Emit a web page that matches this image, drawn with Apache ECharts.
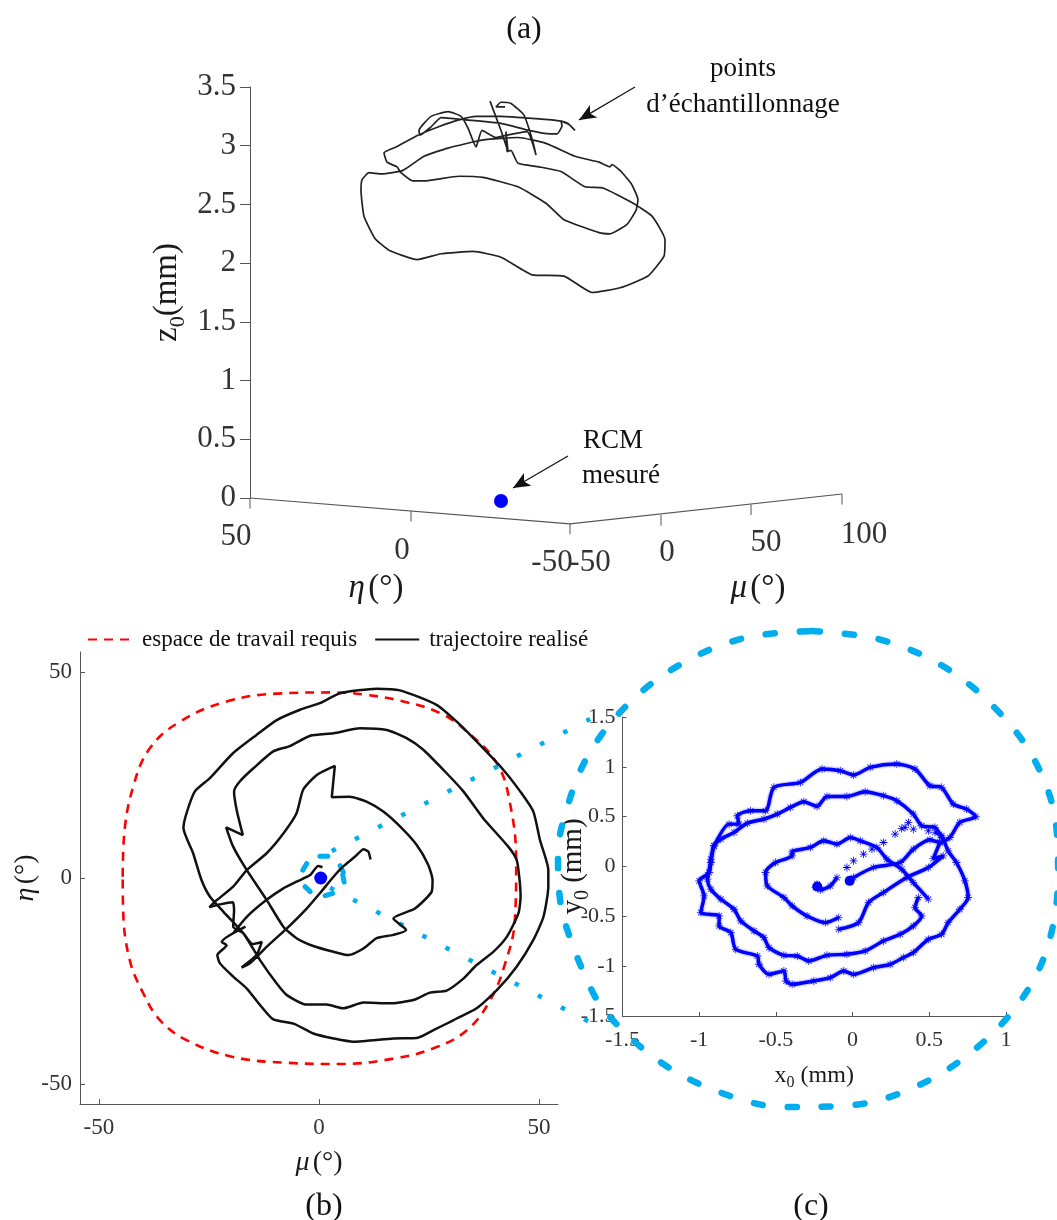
<!DOCTYPE html>
<html><head><meta charset="utf-8">
<script src="https://cdn.jsdelivr.net/npm/echarts@6/dist/echarts.min.js"></script>
<style>html,body{margin:0;padding:0;background:#fff}#c{width:1057px;height:1220px}</style>
</head><body><div id="c"></div>
<script>
// Panel (a): h = horizontal position in the projected 3D view, z = z0 (mm)
const trajectoryA = [[255,3.33],[246,3.33],[251,3.37],[261,3.36],[274,3.26],[282,3.06],[286,2.92],[277,3.12],[251,3.08],[246,3.07],[232,3.13],[226,2.99],[218,3.15],[211,3.25],[198,3.29],[181,3.25],[169,3.13],[170,3.09],[181,3.16],[191,3.24],[216,3.22],[251,3.19],[279,3.13],[300,3.10],[307,3.10],[312,3.17],[311,3.21],[319,3.18],[325,3.13],[318,3.19],[311,3.21],[286,3.23],[251,3.25],[226,3.25],[209,3.22],[188,3.16],[168,3.09],[146,2.99],[134,2.94],[137,2.86],[147,2.82],[151,2.77],[163,2.70],[174,2.70],[209,2.74],[233,2.73],[268,2.65],[296,2.51],[314,2.37],[349,2.26],[360,2.25],[377,2.33],[386,2.45],[388,2.54],[381,2.68],[370,2.79],[362,2.84],[360,2.82],[349,2.86],[325,2.91],[296,3.02],[268,3.07],[233,3.05],[198,2.98],[174,2.91],[153,2.79],[132,2.76],[119,2.77],[112,2.71],[111,2.62],[114,2.40],[125,2.21],[139,2.11],[167,2.03],[191,2.08],[223,2.10],[251,2.05],[282,1.90],[314,1.89],[342,1.75],[370,1.79],[398,1.89],[414,2.06],[415,2.20],[402,2.40],[381,2.52],[353,2.64],[335,2.65],[311,2.78],[289,2.82],[268,2.85],[261,2.96],[257,2.95],[256,3.12],[258,2.95],[251,3.13],[240,3.38]];
const rcmA = [[251,-0.026]];
const floorAxes = [[0,0],[320,-0.221],[592,0.034]];
const floorTicks = [[0,0],[0,-0.09],null,[161,-0.11],[161,-0.2],null,[320,-0.221],[320,-0.31],null,[411,-0.145],[411,-0.235],null,[501,-0.055],[501,-0.145],null,[592,0.034],[592,-0.056]];
const floorLabels = [['50',-14,-0.33],['0',152,-0.45],['-50',302,-0.55],['-50',340,-0.55],['0',417,-0.47],['50',516,-0.38],['100',614,-0.31]];
const notesA = [['points',493,3.65],['d\u2019\u00e9chantillonnage',493,3.35],['RCM',363,0.486],['mesur\u00e9',371,0.187]];
const arrowsA = [[[385,3.5],[329,3.22]],[[318,0.358],[263,0.085]]];

// Panel (b): mu, eta in degrees
const workspaceB = [[-44.6,0.3],[-44.3,10.0],[-42.2,22.2],[-38.4,31.5],[-31.6,37.9],[-21.0,42.8],[-9.6,44.7],[3.3,45.0],[10.8,44.4],[18.4,43.0],[27.5,40.0],[33.6,35.5],[40.4,27.8],[43.4,18.1],[44.8,3.6],[44.5,-10.2],[42.3,-20.7],[38.9,-29.6],[33.6,-36.9],[26.0,-41.3],[16.9,-43.8],[4.8,-45.1],[-7.3,-44.8],[-19.5,-43.4],[-30.1,-39.3],[-36.1,-34.5],[-39.9,-28.0],[-43.0,-19.9],[-44.5,-7.8],[-44.6,0.3]];
const trajectoryB = [[11.7,4.5],[11.2,6.4],[10.1,7.0],[8.2,5.2],[5.5,2.8],[3.3,0.3],[0.2,-3.7],[-2.8,-7.4],[-7.3,-12.2],[-11.9,-16.7],[-15.7,-20.7],[-17.6,-21.7],[-14.2,-18.7],[-13.0,-15.5],[-15.1,-16.0],[-17.2,-13.4],[-19.5,-11.8],[-19.3,-7.8],[-19.6,-5.9],[-22.5,-6.4],[-24.9,-7.1],[-23.6,-5.7],[-19.5,-2.1],[-16.4,1.9],[-11.9,6.0],[-8.1,10.8],[-5.1,15.7],[-3.6,21.4],[-0.5,25.0],[3.6,27.2],[2.9,19.6],[7.0,19.7],[10.8,18.5],[14.6,16.1],[18.4,12.5],[22.2,8.0],[24.8,3.2],[25.8,-0.5],[25.6,-3.3],[21.8,-7.4],[16.9,-9.8],[19.8,-12.6],[16.9,-13.8],[13.1,-14.6],[10.1,-17.1],[6.7,-18.7],[3.3,-17.9],[-1.3,-16.5],[-5.1,-14.6],[-8.1,-11.8],[-11.9,-5.3],[-16.4,1.9],[-19.5,7.6],[-21.1,12.3],[-17.3,10.4],[-18.7,16.5],[-19.3,21.0],[-18.0,23.4],[-14.9,26.6],[-10.4,30.7],[-6.6,32.0],[-2.0,34.5],[3.3,35.1],[9.3,36.3],[15.4,35.9],[19.9,33.9],[23.7,31.1],[29.0,25.4],[32.8,21.0],[37.3,14.5],[43.0,7.6],[44.9,4.4],[45.5,0.3],[45.8,-4.5],[45.3,-8.6],[42.7,-14.2],[39.6,-17.9],[35.8,-21.1],[32.8,-24.4],[29.0,-27.3],[25.2,-27.8],[21.4,-29.6],[16.1,-30.4],[10.1,-30.2],[5.5,-31.6],[1.7,-30.7],[-2.8,-30.7],[-7.3,-28.4],[-9.6,-25.6],[-13.4,-19.9],[-17.2,-13.4],[-21.7,-8.2],[-24.8,-4.5],[-26.7,-0.5],[-28.6,6.0],[-30.8,12.1],[-30.1,15.7],[-28.2,21.0],[-24.8,24.2],[-19.5,30.3],[-14.2,34.7],[-9.6,38.3],[-4.3,40.8],[0.2,42.4],[4.8,44.8],[13.1,45.9],[18.4,45.5],[26.7,42.0],[31.3,37.9],[35.8,33.1],[41.9,26.2],[45.7,21.0],[48.7,16.1],[50.2,9.2],[52.1,1.9],[52.1,-2.1],[51.0,-9.4],[48.7,-15.0],[44.9,-21.5],[40.4,-27.2],[35.8,-31.6],[30.5,-34.5],[26.0,-36.9],[22.2,-38.8],[16.9,-38.9],[7.8,-39.7],[3.3,-38.9],[-1.3,-37.7],[-5.8,-35.3],[-10.4,-34.3],[-13.4,-30.8],[-16.4,-26.8],[-19.5,-23.9],[-22.5,-20.7],[-23.1,-18.7],[-21.0,-16.3],[-22.1,-15.5],[-16.7,-11.8],[-19.5,-13.4],[-16.4,-9.4],[-11.9,-5.3],[-8.1,-2.5],[-5.1,-0.9],[-2.0,0.7],[-0.2,2.9],[0.8,2.6]];
const rcmB = [[0.4,0]];
const zoomLineUpper = [[2.9,6.55],[61.6,38.6]];
const zoomLineLower = [[2.5,-2.35],[61.6,-35]];
const smallRing = [[0.2,5.3],[2,5.3],null,[-3.7,1.9],[-2.8,3.5],null,[-3.2,-2.1],[-2,-3.3],null,[1.4,-4.3],[3.1,-3.7],null,[5.4,0.7],[5.7,-1],null,[4.8,3],[5.5,1.4]];
const tickB = [-50,0,50];

// Panel (c): x0, y0 in mm
const bigRing = [[-0.27,2.372],[0.166,2.292],[0.577,2.031],[0.922,1.609],[1.189,1.067],[1.326,0.425],[1.339,-0.077],[1.274,-0.78],[1.098,-1.332],[0.792,-1.834],[0.42,-2.196],[0,-2.387],[-0.44,-2.407],[-0.87,-2.256],[-1.261,-1.945],[-1.593,-1.483],[-1.71,-1.2],[-1.873,-0.559],[-1.912,-0.228],[-1.919,0.113],[-1.886,0.455],[-1.736,1.087],[-1.469,1.63],[-1.117,2.041],[-0.707,2.302],[-0.27,2.372]];
const pathCSparse = [[-0.037,-0.01],[0.006,0.057],[0.071,0.124],[0.126,0.174],[0.201,0.241],[0.277,0.325],[0.342,0.392],[0.364,0.442],[0.32,0.382],[0.396,0.375],[0.494,0.358]];
const pathCStart = [[-0.232,-0.177],[-0.242,-0.211],[-0.21,-0.234],[-0.145,-0.194],[-0.102,-0.111]];
const pathCOuter = [[0.537,0.342],[0.58,0.308],[0.623,0.157],[0.677,0.04],[0.732,-0.144],[0.753,-0.311],[0.699,-0.429],[0.623,-0.563],[0.58,-0.68],[0.494,-0.73],[0.396,-0.864],[0.331,-0.914],[0.245,-0.981],[0.136,-1.015],[0.006,-1.082],[-0.058,-1.048],[-0.145,-1.115],[-0.253,-1.149],[-0.394,-1.182],[-0.433,-1.149],[-0.448,-1.048],[-0.545,-1.082],[-0.61,-0.981],[-0.621,-0.898],[-0.762,-0.831],[-0.794,-0.663],[-0.87,-0.596],[-0.87,-0.496],[-0.989,-0.462],[-0.968,-0.295],[-1,-0.144],[-0.935,-0.06],[-0.924,0.074],[-0.903,0.208],[-0.805,0.425],[-0.74,0.425],[-0.751,0.509],[-0.665,0.559],[-0.567,0.559],[-0.513,0.794],[-0.34,0.844],[-0.199,0.978],[-0.08,0.961],[0.006,0.918],[0.115,0.995],[0.288,1.028],[0.407,0.978],[0.504,0.81],[0.58,0.794],[0.656,0.626],[0.742,0.576],[0.803,0.499],[0.699,0.442],[0.634,0.291],[0.569,0.241],[0.504,0.268],[0.396,0.174],[0.31,0.04],[0.136,-0.01],[0.006,-0.111],[-0.019,-0.144]];
const pathCMiddle = [[0.58,0.291],[0.537,0.392],[0.45,0.409],[0.396,0.526],[0.288,0.66],[0.201,0.71],[0.082,0.75],[-0.037,0.703],[-0.167,0.703],[-0.232,0.603],[-0.318,0.65],[-0.405,0.593],[-0.491,0.526],[-0.578,0.476],[-0.686,0.435],[-0.773,0.342],[-0.859,0.275],[-0.903,0.208],[-0.924,0.04],[-0.946,-0.127],[-0.924,-0.228],[-0.859,-0.328],[-0.773,-0.429],[-0.729,-0.546],[-0.643,-0.646],[-0.578,-0.713],[-0.545,-0.814],[-0.448,-0.891],[-0.361,-0.898],[-0.286,-0.948],[-0.167,-0.891],[-0.037,-0.881],[0.082,-0.847],[0.201,-0.747],[0.31,-0.68],[0.396,-0.596],[0.45,-0.496],[0.407,-0.412],[0.429,-0.311]];
const pathCBranch = [[0.569,0.241],[0.526,0.08],[0.591,0.107],[0.494,-0.01],[0.353,-0.111],[0.201,-0.261],[0.104,-0.362],[0.039,-0.563],[-0.091,-0.63]];
const pathCInner = [[0.494,-0.328],[0.396,-0.161],[0.32,-0.027],[0.223,0.074],[0.158,0.191],[0.05,0.258],[-0.015,0.291],[-0.102,0.224],[-0.188,0.258],[-0.275,0.191],[-0.394,0.147],[-0.394,0.107],[-0.502,0.04],[-0.567,-0.06],[-0.556,-0.194],[-0.448,-0.311],[-0.394,-0.395],[-0.297,-0.496],[-0.177,-0.563],[-0.091,-0.512]];
const pathCEnds = [[-0.23,-0.2],[-0.019,-0.144]];

const SERIF = '"Liberation Serif","Times New Roman",serif';
const AXIS = '#555';
const CYAN = '#00aeef';
const BLUE = '#0000ff';
const INK = '#1a1a1a';
const STAR = 'path://M4.5 0h1v3.8l2.7-2.7.7.7L6.2 4.5H10v1H6.2l2.7 2.7-.7.7-2.7-2.7V10h-1V6.2L1.8 8.9l-.7-.7 2.7-2.7H0v-1h3.8L1.1 1.8l.7-.7 2.7 2.7z';

function subRich(size){return {
  a:{fontFamily:SERIF,fontSize:size,color:INK,verticalAlign:'middle',lineHeight:size*1.3},
  s:{fontFamily:SERIF,fontSize:Math.round(size*0.68),color:INK,verticalAlign:'bottom',lineHeight:size*1.3},
  i:{fontFamily:SERIF,fontStyle:'italic',fontSize:size,color:INK,verticalAlign:'middle',lineHeight:size*1.3}
};}
function blueLine(name,data){return {name,type:'line',xAxisIndex:2,yAxisIndex:2,data,symbol:STAR,symbolSize:8,showSymbol:true,showAllSymbol:true,smooth:0.25,clip:false,
  itemStyle:{color:BLUE,opacity:0.85},lineStyle:{color:BLUE,width:3.4,shadowColor:'rgba(0,0,255,.6)',shadowBlur:2.5},z:4};}
function textScatter(name,rows,size,color){return {name,type:'scatter',xAxisIndex:0,yAxisIndex:0,clip:false,symbolSize:0,silent:true,
  itemStyle:{opacity:1},
  data:rows.map(r=>({name:r[0],value:[r[1],r[2]]})),
  label:{show:true,position:'inside',formatter:'{b}',fontFamily:SERIF,fontSize:size,color}};}
const titleStyle={fontFamily:SERIF,fontSize:32,fontWeight:'normal',color:'#111'};

const option = {
  backgroundColor:'#fff',animation:false,
  title:[
    {text:'(a)',left:519,top:9,textAlign:'center',textStyle:titleStyle},
    {text:'(b)',left:319,top:1186,textAlign:'center',textStyle:titleStyle},
    {text:'(c)',left:806,top:1186,textAlign:'center',textStyle:titleStyle}
  ],
  legend:{left:82,top:623,itemWidth:44,itemHeight:1,itemGap:17,itemStyle:{opacity:0},data:['espace de travail requis','trajectoire realis\u00e9'],
    textStyle:{fontFamily:SERIF,fontSize:23,color:'#111',padding:[0,0,0,5]}},
  grid:[
    {left:250,top:87,width:600,height:411},
    {left:80,top:652,width:478,height:452},
    {left:622.5,top:717,width:383.5,height:299},
    {left:0,top:0,width:1057,height:1220},
    {left:0,top:0,width:1057,height:1220}
  ],
  xAxis:[
    {gridIndex:0,type:'value',min:0,max:600,show:false},
    {gridIndex:1,type:'value',min:-54.3,max:54.3,splitLine:{show:false},
      axisLine:{onZero:false,lineStyle:{color:AXIS}},axisTick:{inside:true,length:5,customValues:tickB,lineStyle:{color:AXIS}},
      axisLabel:{customValues:tickB,fontFamily:SERIF,fontSize:23,color:'#333',margin:12},
      name:'{i|\u03bc} {a|(\u00b0)}',nameLocation:'middle',nameGap:40,nameMoveOverlap:false,nameTextStyle:{rich:subRich(28)}},
    {gridIndex:2,type:'value',min:-1.5,max:1,interval:0.5,splitLine:{show:false},
      axisLine:{onZero:false,lineStyle:{color:AXIS}},axisTick:{inside:true,length:4,lineStyle:{color:AXIS}},
      axisLabel:{fontFamily:SERIF,fontSize:22,color:'#333',margin:13,showMinLabel:true,showMaxLabel:true},
      name:'{a|x}{s|0}{a| (mm)}',nameLocation:'middle',nameGap:44,nameMoveOverlap:false,nameTextStyle:{rich:subRich(24)}},
    {gridIndex:3,type:'value',min:-72.5,max:167.7,show:false},
    {gridIndex:4,type:'value',min:-5.554,max:1.332,show:false}
  ],
  yAxis:[
    {gridIndex:0,type:'value',min:0,max:3.5,interval:0.5,splitLine:{show:false},
      axisLine:{show:true,lineStyle:{color:AXIS}},axisTick:{show:true,length:10,lineStyle:{color:AXIS}},
      axisLabel:{fontFamily:SERIF,fontSize:31,color:'#333',margin:14},
      name:'{a|z}{s|0}{a|(mm)}',nameLocation:'middle',nameGap:61,nameMoveOverlap:false,nameRotate:90,nameTextStyle:{rich:subRich(33)}},
    {gridIndex:1,type:'value',min:-54.8,max:54.8,splitLine:{show:false},
      axisLine:{show:true,onZero:false,lineStyle:{color:AXIS}},axisTick:{show:true,inside:true,length:5,customValues:tickB,lineStyle:{color:AXIS}},
      axisLabel:{customValues:tickB,fontFamily:SERIF,fontSize:23,color:'#333',margin:8},
      name:'{i|\u03b7} {a|(\u00b0)}',nameLocation:'middle',nameGap:36,nameMoveOverlap:false,nameRotate:90,nameTextStyle:{rich:subRich(28)}},
    {gridIndex:2,type:'value',min:-1.5,max:1.5,interval:0.5,splitLine:{show:false},
      axisLine:{show:true,onZero:false,lineStyle:{color:AXIS}},axisTick:{show:true,inside:true,length:4,lineStyle:{color:AXIS}},
      axisLabel:{fontFamily:SERIF,fontSize:22,color:'#333',margin:7,showMinLabel:true,showMaxLabel:true},
      name:'{a|y}{s|0}{a| (mm)}',nameLocation:'middle',nameGap:30,nameMoveOverlap:false,nameRotate:90,nameTextStyle:{rich:subRich(29)}},
    {gridIndex:3,type:'value',min:-83.0,max:213.1,show:false},
    {gridIndex:4,type:'value',min:-3.541,max:8.708,show:false}
  ],
  series:[
    {name:'axes3d',type:'line',xAxisIndex:0,yAxisIndex:0,data:floorAxes,symbol:'none',clip:false,lineStyle:{color:AXIS,width:1.2}},
    {name:'ticks3d',type:'line',xAxisIndex:0,yAxisIndex:0,data:floorTicks,symbol:'none',clip:false,connectNulls:false,lineStyle:{color:AXIS,width:1}},
    {name:'trajA',type:'line',xAxisIndex:0,yAxisIndex:0,data:trajectoryA,symbol:'none',smooth:0.15,clip:false,lineStyle:{color:'#222',width:1.7},
      markLine:{silent:true,symbol:['none','arrow'],symbolSize:[11,17],label:{show:false},animation:false,lineStyle:{color:'#111',width:1.2,type:'solid'},
        data:arrowsA.map(a=>[{coord:a[0]},{coord:a[1]}])}},
    {name:'rcmA',type:'scatter',xAxisIndex:0,yAxisIndex:0,data:rcmA,symbol:'circle',symbolSize:14,clip:false,itemStyle:{color:BLUE,opacity:1}},
    textScatter('floorLabels',floorLabels,31,'#333'),
    textScatter('notes',notesA,27,'#111'),
    {name:'axisNames',type:'scatter',xAxisIndex:0,yAxisIndex:0,clip:false,symbolSize:0,silent:true,itemStyle:{opacity:1},
      data:[{name:'{i|\u03b7} {a|(\u00b0)}',value:[126,-0.77]},{name:'{i|\u03bc} {a|(\u00b0)}',value:[508,-0.77]}],
      label:{show:true,position:'inside',formatter:'{b}',rich:subRich(33)}},

    {name:'espace de travail requis',type:'line',xAxisIndex:1,yAxisIndex:1,data:workspaceB,symbol:'none',smooth:0.4,clip:false,
      itemStyle:{color:'#ff0000'},lineStyle:{color:'#ff0000',width:2.6,type:[9,7]},z:2},
    {name:'trajectoire realis\u00e9',type:'line',xAxisIndex:1,yAxisIndex:1,data:trajectoryB,symbol:'none',smooth:0.2,clip:false,
      itemStyle:{color:'#111'},lineStyle:{color:'#111',width:2.5},z:3},
    {name:'zoomUpper',type:'line',xAxisIndex:3,yAxisIndex:3,data:zoomLineUpper,symbol:'none',lineStyle:{color:CYAN,width:4.5,type:[4.5,21.5]},z:2},
    {name:'zoomLower',type:'line',xAxisIndex:3,yAxisIndex:3,data:zoomLineLower,symbol:'none',lineStyle:{color:CYAN,width:4.5,type:[4.5,21.5]},z:2},
    {name:'ringSmall',type:'line',xAxisIndex:3,yAxisIndex:3,data:smallRing,symbol:'none',connectNulls:false,lineStyle:{color:CYAN,width:5,cap:'round'},z:2},
    {name:'rcmB',type:'scatter',xAxisIndex:1,yAxisIndex:1,data:rcmB,symbol:'circle',symbolSize:13,clip:false,itemStyle:{color:BLUE,opacity:1},z:5},

    {name:'ringBig',type:'line',xAxisIndex:4,yAxisIndex:4,data:bigRing,symbol:'none',smooth:0.35,clip:false,lineStyle:{color:CYAN,width:6.5,cap:'round',type:[9,25]},z:2},
    {name:'sparse',type:'scatter',xAxisIndex:2,yAxisIndex:2,data:pathCSparse,symbol:STAR,symbolSize:8,clip:false,itemStyle:{color:BLUE,opacity:1},z:4},
    blueLine('c1',pathCStart),blueLine('c2',pathCOuter),blueLine('c3',pathCMiddle),blueLine('c4',pathCBranch),blueLine('c5',pathCInner),
    {name:'ends',type:'scatter',xAxisIndex:2,yAxisIndex:2,data:pathCEnds,symbol:'circle',symbolSize:10,clip:false,itemStyle:{color:BLUE,opacity:1},z:5}
  ]
};
const chart = echarts.init(document.getElementById('c'),null,{renderer:'canvas'});
chart.setOption(option);
</script></body></html>
